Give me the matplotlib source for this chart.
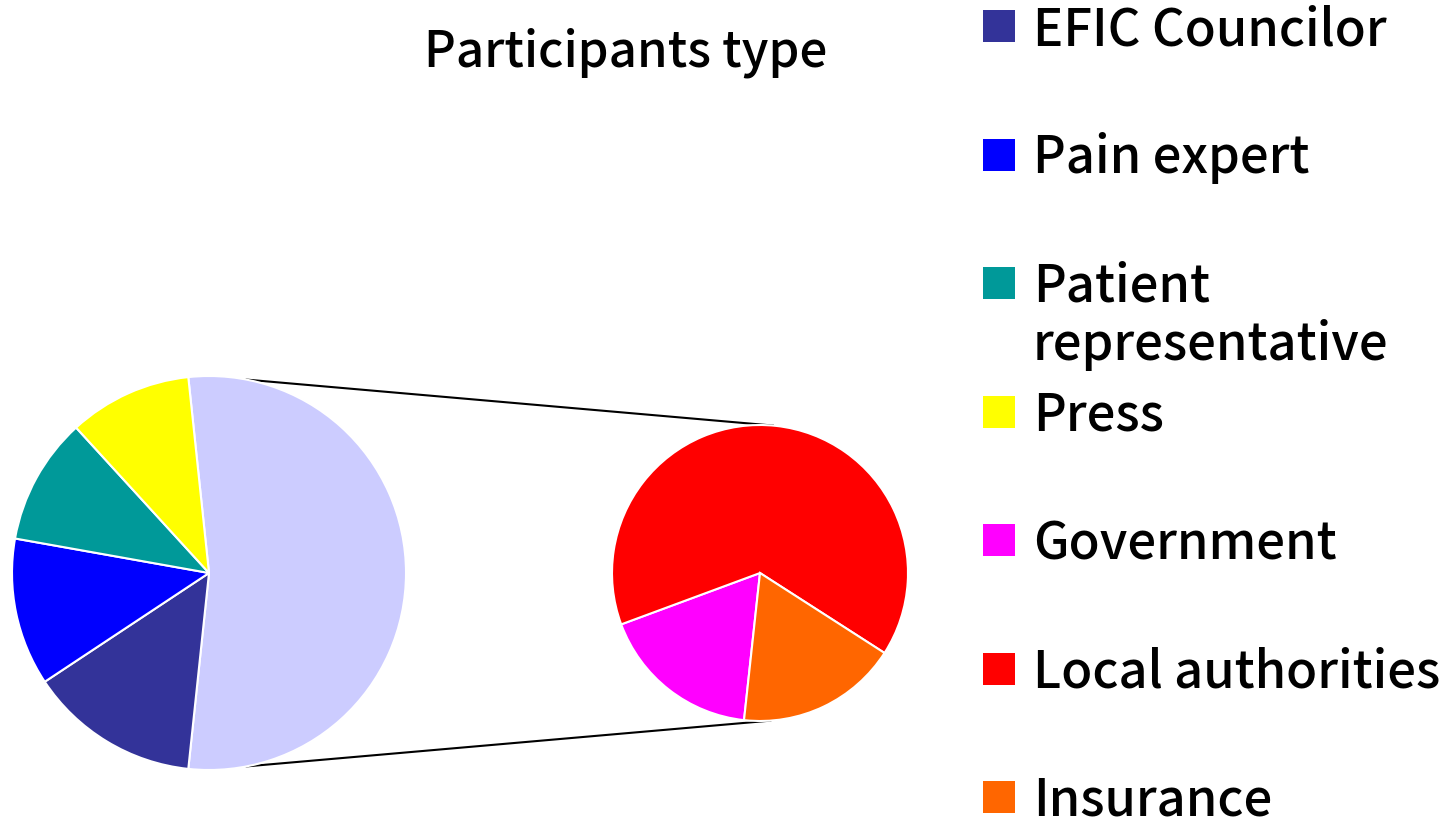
import numpy as np
import matplotlib
matplotlib.use("Agg")
import matplotlib.pyplot as plt
from matplotlib.patches import Rectangle

plt.rcParams['font.family'] = ['Noto Sans CJK JP', 'DejaVu Sans']
plt.rcParams['font.weight'] = 'medium'

# data (percent of participants)
main_labels = ['EFIC Councilor', 'Pain expert', 'Patient representative', 'Press']
main_values = [14.0, 12.1, 10.4, 10.1]
other_labels = ['Government', 'Local authorities', 'Insurance']
other_values = [9.4, 34.5, 9.4]

main_colors = ['#333399', '#0000FF', '#009999', '#FFFF00']
other_colors = ['#FF00FF', '#FF0000', '#FF6600']
other_slice_color = '#CCCCFF'

W, H = 1456, 819
fig = plt.figure(figsize=(W / 100, H / 100), dpi=100)
ax = fig.add_axes([0, 0, 1, 1])

main_c = (209, H - 573)
main_r = 197
sec_c = (760, H - 573)
sec_r = 148

# main pie: "other" slice first, centred on the right
other_total = sum(other_values)
total = other_total + sum(main_values)
vals = [other_total] + main_values
cols = [other_slice_color] + main_colors
ax.pie(vals, colors=cols, center=main_c, radius=main_r, counterclock=False,
       startangle=180 * other_total / total,
       wedgeprops=dict(edgecolor='white', linewidth=1.5), frame=True)

# secondary pie (breakdown of the "other" slice)
ax.pie(other_values, colors=other_colors, center=sec_c, radius=sec_r,
       counterclock=False, startangle=263.8,
       wedgeprops=dict(edgecolor='white', linewidth=1.5), frame=True)
ax.set_xlim(0, W)
ax.set_ylim(0, H)
ax.set_aspect('equal')
ax.axis('off')

# connector lines
for a_main, a_sec in [(79, 85), (-79, -86)]:
    x0 = main_c[0] + main_r * np.cos(np.radians(a_main))
    y0 = main_c[1] + main_r * np.sin(np.radians(a_main))
    x1 = sec_c[0] + sec_r * np.cos(np.radians(a_sec))
    y1 = sec_c[1] + sec_r * np.sin(np.radians(a_sec))
    ax.plot([x0, x1], [y0, y1], color='black', lw=1.5, zorder=0)

ax.text(626, H - 67, 'Participants type', fontsize=35.5, ha='center',
        va='baseline', color='black')

# legend
labels = main_labels + other_labels
colors = main_colors + other_colors
for i, (lab, col) in enumerate(zip(labels, colors)):
    cy = 26 + 128.5 * i
    ax.add_patch(Rectangle((983, H - cy - 16), 32, 32, color=col, lw=0))
    if lab == 'Patient representative':
        ax.text(1033, H - cy - 19, 'Patient', fontsize=36.5, va='baseline')
        ax.text(1033, H - cy - 19 - 58, 'representative', fontsize=36.5, va='baseline')
    else:
        ax.text(1033, H - cy - 19, lab, fontsize=36.5, va='baseline')

fig.savefig('out.png', dpi=100)
